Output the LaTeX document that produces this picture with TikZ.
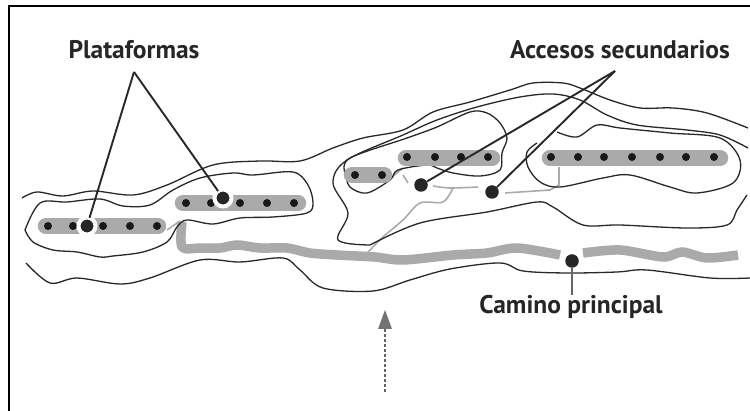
\documentclass[tikz,border=0pt]{standalone}
\usepackage{fontspec}
\setmainfont{PT Sans}
\usetikzlibrary{positioning,arrows.meta}
\definecolor{dInk}{RGB}{40,40,40}
\definecolor{dPad}{RGB}{170,170,170}
\tikzset{
  contour/.style={draw=dInk, line width=1.3pt},
  pad/.style={line width=16.5pt, draw=dPad, line cap=round},
  hole/.style={circle, fill=black!90, minimum size=8pt, inner sep=0pt},
  marker/.style={circle, fill=black!85, minimum size=13.5pt, inner sep=0pt},
  halo/.style={marker, draw=white, line width=4pt, minimum size=17pt, outer sep=0pt},
  leader/.style={draw=dInk, line width=1.9pt},
  road/.style={draw=dPad, line width=9.5pt, line join=round},
  spur/.style={draw=dPad, line width=1.6pt},
  lbl/.style={font=\fontsize{25.5}{26}\selectfont\bfseries, text=black!85, inner sep=0pt},
}
\newcommand{\Contour}[1]{%
  \draw[contour] plot[smooth, tension=0.55] coordinates {#1};}
\begin{document}
\begin{tikzpicture}[x=1pt, y=-1pt]
  \useasboundingbox (0,0) rectangle (750,411);
  \fill[white] (0,0) rectangle (750,411);
  \draw[black, line width=1.8pt] (9,412) -- (9,6) -- (751,6);
  % spurs and main road
  \draw[spur] plot[smooth] coordinates {(433,186) (450,188) (478,187)};
  \draw[spur] plot[smooth] coordinates {(453,188) (443,202) (420,203) (403,220) (383,237) (368,252)};
  \draw[spur] (505,193) -- (550,190) -- (559,185) -- (559,167);
  \draw[spur] (392,177) -- (403,168);
  \draw[spur] (403,175) -- (408,183);
  \draw[spur] (167,230) -- (180,221);
  \draw[road] plot[smooth] coordinates {(182,222) (182,247) (200,248) (220,248) (237,245) (260,248)
    (287,248) (310,253) (337,255) (375,257) (403,260) (453,255) (487,253) (517,248) (560,255)};
  \draw[road] plot[smooth] coordinates {(583,253) (620,250) (663,257) (682,252) (707,258) (738,255)};
  % contours
  \Contour{(22,198) (37,192) (63,196) (93,191) (133,195) (167,185) (213,165) (260,161) (300,161)
    (333,148) (363,138) (403,130) (433,112) (470,102) (510,90) (533,83) (563,83) (580,88)
    (610,100) (640,108) (673,108) (707,113) (748,128)}
  \Contour{(25,230) (40,203) (67,202) (100,199) (123,206) (150,205) (173,190) (200,178) (233,173)
    (253,175) (293,172) (308,185) (313,203) (307,213) (273,217) (240,218) (213,224) (187,220)
    (177,227) (167,242) (143,252) (113,256) (100,257) (77,252) (53,250) (33,242) (25,230)}
  \Contour{(26,263) (50,283) (77,278) (120,284) (150,278) (200,260) (240,262) (283,258) (300,270)
    (323,288) (373,291) (410,280) (450,269) (500,263) (523,271) (567,273) (617,272) (647,270)
    (710,278) (750,278)}
  \Contour{(370,245) (338,240) (348,213) (333,183) (347,160) (403,135) (437,120) (477,107) (520,97)
    (553,94) (580,100) (607,115) (637,125) (687,130) (720,135) (748,148)}
  \Contour{(370,245) (420,223) (487,212) (537,202) (553,207) (583,225) (620,225) (687,228) (727,225)
    (737,210) (747,195)}
  \Contour{(345,173) (350,187) (367,193) (390,180) (398,170) (427,165) (437,168) (453,173) (480,176)
    (500,170) (502,153) (507,138) (500,123) (487,113) (470,112) (437,127) (407,138) (350,158) (345,173)}
  \Contour{(557,132) (577,137) (597,125) (620,128) (670,133) (720,138) (740,160) (733,183) (697,193)
    (670,187) (630,175) (603,178) (560,187) (540,182) (528,167) (527,152) (537,143)}
  % pads and their holes
  \draw[pad] (46,226) -- (158,226);
  \draw[pad] (183,203) -- (298,203);
  \draw[pad] (406,158) -- (492,158);
  \draw[pad] (352,175) -- (384,175);
  \draw[pad] (550,158) -- (720,158);
  \foreach \hx in {48,73,103,130,157} \node[hole] (hA\hx) at (\hx,226) {};
  \foreach \hx in {186,211,240,267,294} \node[hole] (hB\hx) at (\hx,203) {};
  \foreach \hx in {407,435,461,488} \node[hole] (hC\hx) at (\hx,157) {};
  \foreach \hx in {355,382} \node[hole] (hD\hx) at (\hx,175) {};
  \foreach \hx in {551,578,604,632,660,686,714} \node[hole] (hE\hx) at (\hx,157) {};
  % markers
  \node[halo] (plat1) at (87,226) {};
  \node[halo] (plat2) at (223,198) {};
  \node[marker] (acc1) at (421,185) {};
  \node[marker] (acc2) at (492,192) {};
  \node[marker] (cam) at (572,261) {};
  % labels
  \node[lbl] (plat) at (134,50) {Plataformas};
  \node[lbl] (acc) at (620,50) {Accesos secundarios};
  \node[lbl] (camino) at (571,307) {Camino principal};
  \coordinate (platTop) at (134,72);
  \coordinate (accTop) at (615,71);
  \coordinate (camTop) at (572,295);
  \coordinate (inTop) at (385,310);
  \coordinate (inEnd) at (385,392);
  % leaders
  \draw[leader] (platTop) -- (plat1);
  \draw[leader] (platTop) -- (plat2);
  \draw[leader] (accTop) -- (acc1);
  \draw[leader] (accTop) -- (acc2);
  \draw[draw=black!60, line width=2.4pt] (cam) -- (camTop);
  \draw[draw=black!60, line width=2.4pt, dash pattern=on 2.5pt off 2.5pt] (inEnd) -- (385,328);
  \fill[black!55] (inTop) -- (392,329) -- (378,329) -- cycle;
\end{tikzpicture}
\end{document}
